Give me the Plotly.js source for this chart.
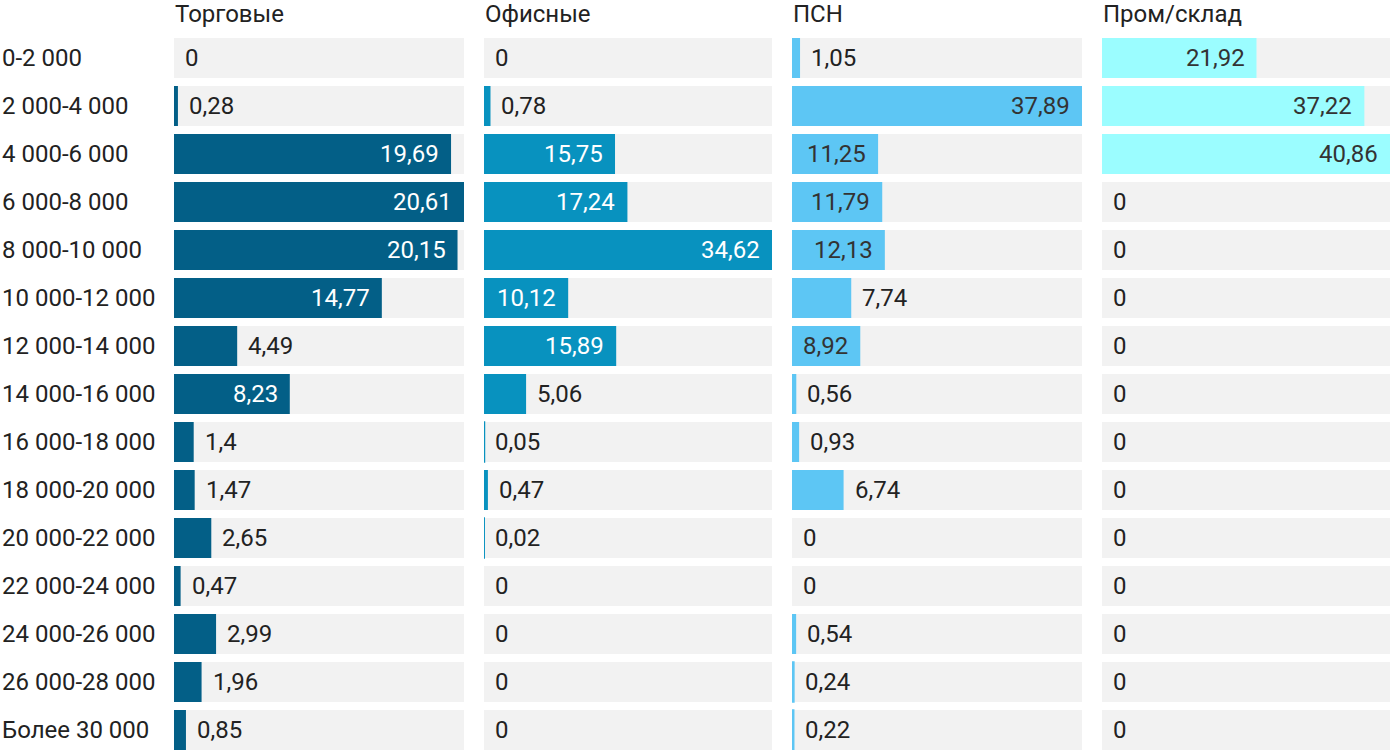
<!DOCTYPE html>
<html><head><meta charset="utf-8">
<script src="https://cdn.plot.ly/plotly-3.0.1.min.js"></script>
<style>html,body{margin:0;padding:0;background:#fff}#chart{width:1400px;height:750px}</style>
</head><body><div id="chart"></div>
<script>
const categories = ['0-2 000','2 000-4 000','4 000-6 000','6 000-8 000','8 000-10 000','10 000-12 000','12 000-14 000','14 000-16 000','16 000-18 000','18 000-20 000','20 000-22 000','22 000-24 000','24 000-26 000','26 000-28 000','Более 30 000'];
const panelTitles = ['Торговые','Офисные','ПСН','Пром/склад'];
const retail     = [0, 0.28, 19.69, 20.61, 20.15, 14.77, 4.49, 8.23, 1.4, 1.47, 2.65, 0.47, 2.99, 1.96, 0.85];
const office     = [0, 0.78, 15.75, 17.24, 34.62, 10.12, 15.89, 5.06, 0.05, 0.47, 0.02, 0, 0, 0, 0];
const psn        = [1.05, 37.89, 11.25, 11.79, 12.13, 7.74, 8.92, 0.56, 0.93, 6.74, 0, 0, 0.54, 0.24, 0.22];
const industrial = [21.92, 37.22, 40.86, 0, 0, 0, 0, 0, 0, 0, 0, 0, 0, 0, 0];

const seriesList = [retail, office, psn, industrial];
const colors = ['#035f87', '#0892bf', '#5dc6f4', '#9bfdff'];
const insideTextColors = ['#ffffff', '#ffffff', '#333333', '#333333'];
const outsideTextColor = '#222222';
const bgColor = '#f2f2f2';

const W = 1400, H = 750, ML = 174, MR = 10, MT = 34, MB = 0;
const plotW = W - ML - MR;
const plotH = H - MT - MB;
const panelPx = [[0, 290], [310, 598], [618, 908], [928, 1216]];
const FS = 24;
const FONT = 'Roboto, "Noto Sans", sans-serif';

const fmt = v => String(v).replace('.', ',');
const estTextW = s => {
  let w = 0;
  for (const ch of s) w += (ch === ',') ? 0.2 : 0.5615;
  return w * FS;
};

const idx = categories.map((c, i) => i);
const traces = [];
const annotations = [];
const layout = {
  width: W, height: H,
  margin: {l: ML, r: MR, t: MT, b: MB, pad: 0},
  paper_bgcolor: '#ffffff', plot_bgcolor: '#ffffff',
  showlegend: false, hovermode: false,
  barmode: 'overlay', bargap: 8 / 48,
  font: {family: FONT, size: FS, color: outsideTextColor},
  yaxis: {
    type: 'linear', range: [14.5 - 4 / 48, -0.5],
    showgrid: false, zeroline: false, showticklabels: false, showline: false, ticks: ''
  },
  annotations: annotations
};

seriesList.forEach((vals, k) => {
  const xa = k === 0 ? 'x' : 'x' + (k + 1);
  const axKey = k === 0 ? 'xaxis' : 'xaxis' + (k + 1);
  const maxV = Math.max(...vals);
  const pxW = panelPx[k][1] - panelPx[k][0];
  layout[axKey] = {
    domain: [panelPx[k][0] / plotW, panelPx[k][1] / plotW],
    range: [0, maxV], anchor: 'y',
    showgrid: false, zeroline: false, showticklabels: false, showline: false, ticks: '', fixedrange: true
  };
  // background track
  traces.push({
    type: 'bar', orientation: 'h', xaxis: xa, yaxis: 'y',
    y: idx, x: vals.map(() => maxV),
    marker: {color: bgColor, line: {width: 0}},
    hoverinfo: 'skip'
  });
  // value bars
  const lineW = vals.map(v => (v > 0 && v / maxV * pxW < 2) ? 1.6 : 0);
  traces.push({
    type: 'bar', orientation: 'h', xaxis: xa, yaxis: 'y',
    y: idx, x: vals,
    marker: {color: colors[k], line: {color: colors[k], width: lineW}},
    hoverinfo: 'skip'
  });
  // value labels
  vals.forEach((v, i) => {
    const s = fmt(v);
    const barPx = v / maxV * pxW;
    const inside = barPx >= estTextW(s) + 20;
    annotations.push({
      xref: xa, yref: 'y', x: v, y: i,
      text: s, showarrow: false,
      xanchor: inside ? 'right' : 'left', yanchor: 'middle',
      xshift: inside ? -10 : 9,
      font: {family: FONT, size: FS, color: inside ? insideTextColors[k] : outsideTextColor}
    });
  });
  // panel title
  annotations.push({
    xref: xa + ' domain', yref: 'paper', x: 0, y: 1 + (MT - 14) / plotH,
    text: panelTitles[k], showarrow: false,
    xanchor: 'left', yanchor: 'middle', xshift: -1,
    font: {family: FONT, size: FS, color: outsideTextColor}
  });
});

// category labels
categories.forEach((c, i) => {
  annotations.push({
    xref: 'paper', yref: 'y', x: -ML / plotW, y: i,
    text: c, showarrow: false,
    xanchor: 'left', yanchor: 'middle', xshift: 0,
    font: {family: FONT, size: FS, color: outsideTextColor}
  });
});

Plotly.newPlot('chart', traces, layout, {displayModeBar: false, staticPlot: false});
</script>
</body></html>
